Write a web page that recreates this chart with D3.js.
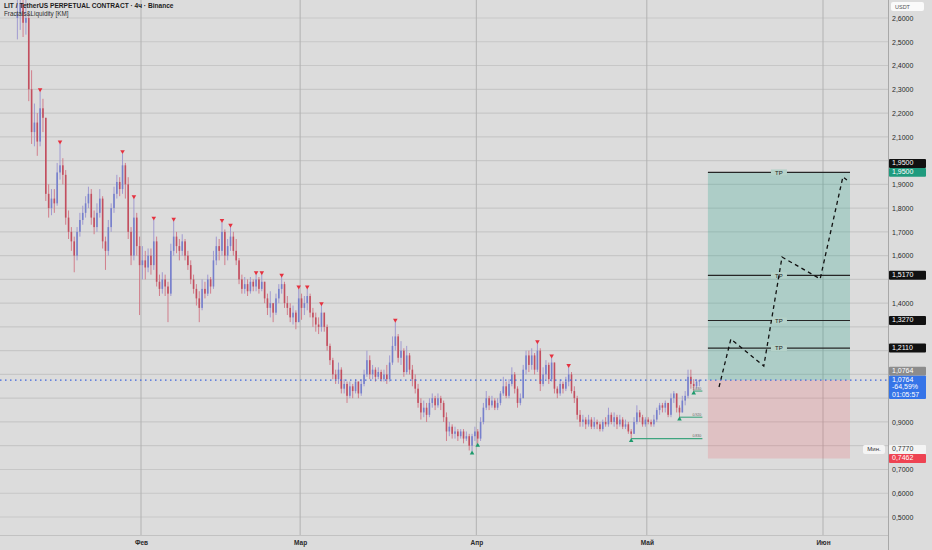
<!DOCTYPE html>
<html>
<head>
<meta charset="utf-8">
<script src="https://cdn.jsdelivr.net/npm/d3@7"></script>
<style>
  body { margin: 0; background: #dcdcdc; }
  svg { display: block; font-family: "Liberation Sans", Arial, sans-serif; }
</style>
</head>
<body>
<div id="chart"></div>
<script>
const startTime = '2026-01-10T00:00:00Z'
const firstOpen = 2.60
const closes = [
  2.62, 2.66, 2.58, 2.60, 2.30, 2.12, 2.16, 2.08, 2.22, 2.18,
  1.86, 1.80, 1.84, 1.82, 1.95, 1.98, 1.94, 1.76, 1.70, 1.66,
  1.60, 1.70, 1.75, 1.78, 1.82, 1.86, 1.76, 1.72, 1.78, 1.84,
  1.66, 1.62, 1.72, 1.80, 1.86, 1.91, 1.88, 1.98, 1.90, 1.70,
  1.60, 1.76, 1.64, 1.56, 1.58, 1.55, 1.60, 1.56, 1.66, 1.49,
  1.46, 1.50, 1.47, 1.44, 1.62, 1.68, 1.64, 1.62, 1.66, 1.60,
  1.56, 1.50, 1.46, 1.42, 1.38, 1.46, 1.44, 1.50, 1.47, 1.58,
  1.64, 1.62, 1.70, 1.60, 1.64, 1.68, 1.62, 1.58, 1.50, 1.46,
  1.48, 1.45, 1.49, 1.47, 1.50, 1.46, 1.49, 1.42, 1.38, 1.40,
  1.36, 1.42, 1.46, 1.48, 1.40, 1.38, 1.34, 1.36, 1.32, 1.42,
  1.38, 1.40, 1.43, 1.36, 1.34, 1.31, 1.30, 1.36, 1.30, 1.22,
  1.16, 1.10, 1.08, 1.12, 1.04, 1.06, 1.01, 1.05, 1.03, 1.07,
  1.02, 1.06, 1.10, 1.16, 1.10, 1.12, 1.09, 1.11, 1.08, 1.10,
  1.08, 1.15, 1.22, 1.26, 1.17, 1.20, 1.11, 1.18, 1.12, 1.08,
  1.04, 0.98, 0.94, 0.96, 0.93, 0.98, 1.00, 0.97, 1.00, 0.98,
  0.92, 0.86, 0.88, 0.85, 0.86, 0.84, 0.86, 0.83, 0.84, 0.80,
  0.84, 0.86, 0.83, 0.90, 0.96, 1.00, 0.97, 0.99, 0.96, 0.98,
  1.02, 1.05, 1.01, 1.06, 1.10, 1.04, 0.98, 1.00, 1.12, 1.18,
  1.14, 1.18, 1.12, 1.20, 1.06, 1.10, 1.14, 1.08, 1.15, 1.04,
  1.02, 1.06, 1.04, 1.07, 1.10, 1.03, 1.00, 0.93, 0.90, 0.91,
  0.89, 0.91, 0.88, 0.90, 0.89, 0.87, 0.90, 0.89, 0.93, 0.90,
  0.92, 0.89, 0.91, 0.88, 0.89, 0.86, 0.85, 0.90, 0.94, 0.92,
  0.89, 0.91, 0.90, 0.89, 0.91, 0.95, 0.97, 0.96, 0.98, 0.93,
  1.00, 1.02, 0.96, 0.94, 0.99, 1.01, 1.09, 1.06, 1.05, 1.07, 1.0764
]
const highs = [
  2.74, 2.78, 2.72, 2.70, 2.62, 2.38, 2.24, 2.20, 2.29, 2.26,
  2.17, 1.90, 1.88, 1.88, 1.99, 2.07, 2.01, 1.96, 1.79, 1.72,
  1.68, 1.72, 1.78, 1.81, 1.85, 1.89, 1.88, 1.79, 1.82, 1.88,
  1.85, 1.68, 1.75, 1.82, 1.89, 1.94, 1.93, 2.03, 1.99, 1.93,
  1.72, 1.84, 1.78, 1.68, 1.64, 1.62, 1.63, 1.63, 1.75, 1.68,
  1.52, 1.53, 1.52, 1.49, 1.65, 1.745, 1.70, 1.67, 1.69, 1.67,
  1.62, 1.58, 1.52, 1.48, 1.45, 1.50, 1.49, 1.52, 1.51, 1.62,
  1.68, 1.67, 1.74, 1.71, 1.67, 1.72, 1.70, 1.67, 1.59, 1.52,
  1.51, 1.50, 1.51, 1.50, 1.52, 1.51, 1.52, 1.47, 1.44, 1.45,
  1.40, 1.44, 1.48, 1.51, 1.49, 1.43, 1.40, 1.39, 1.37, 1.46,
  1.44, 1.43, 1.46, 1.44, 1.38, 1.36, 1.34, 1.39, 1.34, 1.31,
  1.23, 1.17, 1.12, 1.15, 1.13, 1.08, 1.07, 1.07, 1.06, 1.08,
  1.07, 1.08, 1.12, 1.20, 1.18, 1.14, 1.13, 1.13, 1.12, 1.12,
  1.14, 1.18, 1.26, 1.32, 1.27, 1.24, 1.21, 1.22, 1.19, 1.14,
  1.10, 1.06, 1.00, 0.99, 0.98, 1.00, 1.02, 1.01, 1.02, 1.01,
  0.99, 0.94, 0.90, 0.89, 0.88, 0.87, 0.87, 0.87, 0.86, 0.85,
  0.85, 0.88, 0.87, 0.92, 0.98, 1.03, 1.01, 1.01, 1.00, 1.00,
  1.03, 1.09, 1.07, 1.08, 1.13, 1.11, 1.05, 1.02, 1.14, 1.20,
  1.20, 1.21, 1.19, 1.23, 1.21, 1.13, 1.16, 1.15, 1.17, 1.15,
  1.05, 1.08, 1.07, 1.09, 1.13, 1.11, 1.05, 1.01, 0.95, 0.93,
  0.92, 0.93, 0.92, 0.92, 0.91, 0.90, 0.91, 0.92, 0.96, 0.94,
  0.94, 0.93, 0.93, 0.92, 0.91, 0.90, 0.87, 0.92, 0.97, 0.95,
  0.93, 0.92, 0.92, 0.91, 0.93, 0.96, 0.98, 0.98, 0.99, 0.98,
  1.02, 1.03, 1.02, 0.97, 1.01, 1.03, 1.12, 1.12, 1.08, 1.08, 1.08
]
const lows = [
  2.51, 2.55, 2.52, 2.53, 2.25, 2.07, 2.06, 2.02, 2.06, 2.12,
  1.83, 1.76, 1.77, 1.78, 1.81, 1.92, 1.90, 1.73, 1.67, 1.62,
  1.53, 1.58, 1.68, 1.73, 1.76, 1.80, 1.73, 1.69, 1.70, 1.76,
  1.63, 1.54, 1.60, 1.70, 1.78, 1.84, 1.85, 1.86, 1.84, 1.67,
  1.56, 1.58, 1.60, 1.35, 1.50, 1.50, 1.53, 1.52, 1.54, 1.47,
  1.43, 1.44, 1.43, 1.32, 1.43, 1.60, 1.61, 1.58, 1.60, 1.58,
  1.54, 1.48, 1.44, 1.39, 1.32, 1.37, 1.42, 1.43, 1.44, 1.46,
  1.56, 1.58, 1.60, 1.56, 1.58, 1.62, 1.60, 1.56, 1.48, 1.44,
  1.44, 1.43, 1.44, 1.45, 1.45, 1.44, 1.45, 1.40, 1.35, 1.34,
  1.32, 1.35, 1.40, 1.44, 1.38, 1.35, 1.32, 1.31, 1.29, 1.32,
  1.33, 1.35, 1.37, 1.34, 1.30, 1.28, 1.27, 1.28, 1.28, 1.20,
  1.14, 1.08, 1.06, 1.06, 1.02, 1.02, 0.98, 1.00, 1.00, 1.02,
  1.00, 1.01, 1.05, 1.09, 1.08, 1.08, 1.07, 1.08, 1.07, 1.07,
  1.06, 1.07, 1.14, 1.20, 1.15, 1.14, 1.09, 1.10, 1.10, 1.05,
  1.02, 0.96, 0.91, 0.92, 0.90, 0.92, 0.96, 0.95, 0.96, 0.95,
  0.90, 0.82, 0.84, 0.83, 0.83, 0.82, 0.83, 0.81, 0.82, 0.78,
  0.777, 0.82, 0.81, 0.82, 0.89, 0.95, 0.95, 0.96, 0.95, 0.95,
  0.97, 1.01, 1.00, 1.00, 1.05, 1.02, 0.96, 0.97, 1.00, 1.10,
  1.11, 1.12, 1.10, 1.11, 1.03, 1.05, 1.08, 1.06, 1.07, 1.02,
  1.00, 1.01, 1.02, 1.03, 1.05, 1.02, 0.98, 0.91, 0.88, 0.88,
  0.87, 0.88, 0.87, 0.87, 0.87, 0.86, 0.86, 0.88, 0.88, 0.89,
  0.88, 0.87, 0.88, 0.87, 0.87, 0.85, 0.83, 0.85, 0.89, 0.90,
  0.88, 0.88, 0.89, 0.88, 0.88, 0.90, 0.93, 0.94, 0.94, 0.92,
  0.92, 0.98, 0.94, 0.92, 0.94, 0.97, 1.00, 1.04, 1.03, 1.04, 1.05
]

const monthTicks = ['2026-02-01', '2026-03-01', '2026-04-01', '2026-05-01', '2026-06-01']
const monthNames = ['Фев', 'Мар', 'Апр', 'Май', 'Июн']
const priceTicks = [0.5, 0.6, 0.7, 0.8, 0.9, 1.0, 1.1, 1.2, 1.3, 1.4, 1.5,
  1.6, 1.7, 1.8, 1.9, 2.0, 2.1, 2.2, 2.3, 2.4, 2.5, 2.6]

const lastPrice = 1.0764
const changeText = '-64,59%'
const countdownText = '01:05:57'
const lowMark = 0.7770

// long position tool
const entryPrice = 1.0764
const stopPrice = 0.7462
const targetPrice = 1.95
const takeProfits = [1.95, 1.517, 1.327, 1.211]
const positionStart = '2026-05-11T18:00:00Z'
const positionEnd = '2026-06-05T18:00:00Z'

// hand drawn projection
const pathTimes = ['2026-05-13T17:00:00Z', '2026-05-15T19:00:00Z', '2026-05-21T14:00:00Z',
  '2026-05-24T19:00:00Z', '2026-05-31T12:00:00Z', '2026-06-04T12:00:00Z', '2026-06-05T05:00:00Z']
const pathPrices = [1.047, 1.249, 1.135, 1.594, 1.502, 1.931, 1.918]

const fmt = v => d3.format('.4f')(v).replace('.', ',')

const width = 932
const height = 550
const plotRight = 888
const plotBottom = 535

const svg = d3.select('#chart').append('svg')
  .attr('width', width)
  .attr('height', height)

svg.append('rect')
  .attr('width', width)
  .attr('height', height)
  .attr('fill', '#dcdcdc')

const x = d3.scaleUtc()
  .domain([new Date(monthTicks[0]), new Date(monthTicks[4])])
  .range([141, 823])

const y = d3.scaleLinear()
  .domain([0.5, 2.6])
  .range([517, 18])

svg.append('clipPath').attr('id', 'plot')
  .append('rect')
  .attr('width', plotRight)
  .attr('height', plotBottom)

const plot = svg.append('g').attr('clip-path', 'url(#plot)')

// grid
plot.append('g')
  .selectAll('line')
  .data(priceTicks)
  .join('line')
  .attr('x1', 0)
  .attr('x2', plotRight)
  .attr('y1', d => y(d))
  .attr('y2', d => y(d))
  .attr('stroke', '#c7c7c7')
  .attr('stroke-width', 1.2)

plot.append('g')
  .selectAll('line')
  .data(monthTicks)
  .join('line')
  .attr('x1', d => x(new Date(d)))
  .attr('x2', d => x(new Date(d)))
  .attr('y1', 0)
  .attr('y2', plotBottom)
  .attr('stroke', '#b2b2b2')
  .attr('stroke-width', 1)

// candles
const t0 = new Date(startTime)
const candles = closes.map((c, i) => {
  const open = i === 0 ? firstOpen : closes[i - 1]
  return {
    date: d3.utcHour.offset(t0, i * 12 + 6),
    open,
    close: c,
    high: Math.max(highs[i], open, c),
    low: Math.min(lows[i], open, c)
  }
})
const n = candles.length
const upColor = '#7680cc'
const downColor = '#c24f5f'
const isUp = d => d.close >= d.open

// position boxes go under the candles
const px0 = x(new Date(positionStart))
const px1 = x(new Date(positionEnd))

plot.append('rect')
  .attr('x', px0)
  .attr('y', y(targetPrice))
  .attr('width', px1 - px0)
  .attr('height', y(entryPrice) - y(targetPrice))
  .attr('fill', 'rgba(8,153,129,0.22)')

plot.append('rect')
  .attr('x', px0)
  .attr('y', y(entryPrice))
  .attr('width', px1 - px0)
  .attr('height', y(stopPrice) - y(entryPrice))
  .attr('fill', 'rgba(242,54,69,0.16)')

plot.append('g')
  .selectAll('line')
  .data(candles)
  .join('line')
  .attr('x1', d => x(d.date))
  .attr('x2', d => x(d.date))
  .attr('y1', d => y(d.high))
  .attr('y2', d => y(d.low))
  .attr('stroke', d => isUp(d) ? '#9a93cf' : '#cf7482')
  .attr('stroke-width', 0.9)

const bodyW = 1.6
plot.append('g')
  .selectAll('rect')
  .data(candles)
  .join('rect')
  .attr('x', d => x(d.date) - bodyW / 2)
  .attr('y', d => y(Math.max(d.open, d.close)))
  .attr('width', bodyW)
  .attr('height', d => Math.max(0.8, Math.abs(y(d.open) - y(d.close))))
  .attr('fill', d => isUp(d) ? upColor : downColor)

// fractals (one bar each side) that were never swept afterwards
const fractalHighs = []
const fractalLows = []
for (let i = 1; i < n - 1; i++) {
  const around = [i - 1, i + 1]
  const later = candles.slice(i + 1)
  if (around.every(j => candles[j].high < candles[i].high) && later.every(c => c.high <= candles[i].high)) {
    fractalHighs.push({ i, ...candles[i] })
  }
  if (around.every(j => candles[j].low > candles[i].low) && later.every(c => c.low >= candles[i].low)) {
    fractalLows.push({ i, ...candles[i] })
  }
}

const lastX = x(candles[n - 1].date) + 3

// liquidity levels in the May range
const liqLevels = fractalLows.filter(d => d.i >= 195).map(d => ({ ...d, price: d.low, kind: 'low' }))
  .concat(fractalHighs.filter(d => d.i >= 200 && d.i < n - 6).map(d => ({ ...d, price: d.high, kind: 'high' })))

plot.append('g')
  .selectAll('line')
  .data(liqLevels)
  .join('line')
  .attr('x1', d => x(d.date))
  .attr('x2', lastX)
  .attr('y1', d => y(d.price))
  .attr('y2', d => y(d.price))
  .attr('stroke', d => d.kind === 'low' ? '#3fa57f' : '#9a9a9a')
  .attr('stroke-width', d => d.kind === 'low' ? 1.1 : 0.7)

plot.append('g')
  .selectAll('text')
  .data(liqLevels)
  .join('text')
  .attr('x', lastX - 1)
  .attr('y', d => y(d.price) - 1.2)
  .attr('text-anchor', 'end')
  .attr('font-size', 3.6)
  .attr('fill', '#666')
  .text(d => d.price.toFixed(3))

const tri = d3.symbol(d3.symbolTriangle).size(9)
plot.append('g')
  .selectAll('path')
  .data(fractalHighs)
  .join('path')
  .attr('d', tri)
  .attr('transform', d => `translate(${x(d.date)}, ${y(d.high) - 2}) rotate(180)`)
  .attr('fill', '#e5313f')

plot.append('g')
  .selectAll('path')
  .data(fractalLows.filter(d => d.i >= 150))
  .join('path')
  .attr('d', tri)
  .attr('transform', d => `translate(${x(d.date)}, ${y(d.low) + 2})`)
  .attr('fill', '#1d9a6c')

// take profit lines with label gap
const tp = plot.append('g')
  .selectAll('g')
  .data(takeProfits)
  .join('g')

tp.append('line')
  .attr('x1', px0)
  .attr('x2', px1)
  .attr('y1', d => y(d))
  .attr('y2', d => y(d))
  .attr('stroke', '#262626')
  .attr('stroke-width', 1.2)

tp.append('rect')
  .attr('x', (px0 + px1) / 2 - 8)
  .attr('y', d => y(d) - 3)
  .attr('width', 16)
  .attr('height', 6)
  .attr('fill', '#b5d2c9')

tp.append('text')
  .attr('x', (px0 + px1) / 2)
  .attr('y', d => y(d) + 2.2)
  .attr('text-anchor', 'middle')
  .attr('font-size', 6)
  .attr('fill', '#222')
  .text('TP')

// projection path
const pathData = pathTimes.map((t, i) => [new Date(t), pathPrices[i]])
plot.append('path')
  .attr('d', d3.line().x(d => x(d[0])).y(d => y(d[1]))(pathData))
  .attr('fill', 'none')
  .attr('stroke', '#111')
  .attr('stroke-width', 1.3)
  .attr('stroke-dasharray', '4,3.5')

// last price dotted line
svg.append('line')
  .attr('x1', 0)
  .attr('x2', plotRight)
  .attr('y1', y(lastPrice))
  .attr('y2', y(lastPrice))
  .attr('stroke', '#3b63dd')
  .attr('stroke-width', 1.2)
  .attr('stroke-dasharray', '1.5,3.5')

// axes
svg.append('line')
  .attr('x1', plotRight + 0.5)
  .attr('x2', plotRight + 0.5)
  .attr('y1', 0)
  .attr('y2', height)
  .attr('stroke', '#a8a8a8')

svg.append('line')
  .attr('x1', 0)
  .attr('x2', plotRight)
  .attr('y1', plotBottom + 0.5)
  .attr('y2', plotBottom + 0.5)
  .attr('stroke', '#c2c2c2')

const xAxis = svg.append('g')
  .attr('transform', `translate(0, ${plotBottom})`)
  .call(d3.axisBottom(x).tickValues(monthTicks.map(d => new Date(d))).tickSize(0).tickPadding(5)
    .tickFormat((d, i) => monthNames[i]))
xAxis.select('.domain').remove()
xAxis.selectAll('text')
  .attr('font-size', 6.5)
  .attr('font-weight', 'bold')
  .attr('font-family', '"Liberation Sans", Arial, sans-serif')
  .attr('fill', '#2a2a2a')

// price scale labels, later ones get pushed up when they overlap
const axisLabels = [
  { price: lastPrice, lines: [fmt(lastPrice), changeText, countdownText], bg: '#3574e8', fg: '#fff' },
  { price: targetPrice, lines: [fmt(targetPrice)], bg: '#1f9b7e', fg: '#fff' },
  { price: stopPrice, lines: [fmt(stopPrice)], bg: '#ee4352', fg: '#fff' },
  ...takeProfits.map(p => ({ price: p, lines: [fmt(p)], bg: '#111', fg: '#fff' })),
  { price: entryPrice, lines: [fmt(entryPrice)], bg: '#8c8c8c', fg: '#fff' },
  { price: lowMark, lines: [fmt(lowMark)], bg: '#f4f4f4', fg: '#333', note: 'Мин.' }
]
const lineH = 7.3
const placed = []
axisLabels.forEach(l => {
  let top = y(l.price) - 4.5
  const h = l.lines.length * lineH + 1.6
  let moved = true
  while (moved) {
    moved = false
    placed.forEach(p => {
      if (top < p.top + p.h - 0.5 && top + h > p.top + 0.5) {
        top = p.top - h
        moved = true
      }
    })
  }
  l.top = top
  l.h = h
  placed.push(l)
})

// regular ticks are hidden where a label sits on them
const freeTicks = priceTicks.filter(p => placed.every(l => y(p) + 4 < l.top || y(p) - 4 > l.top + l.h))

const yAxis = svg.append('g')
  .attr('transform', `translate(${plotRight + 4}, 0)`)
  .call(d3.axisRight(y).tickValues(freeTicks).tickSize(0).tickPadding(0).tickFormat(fmt))
yAxis.select('.domain').remove()
yAxis.selectAll('text')
  .attr('font-size', 7)
  .attr('font-family', '"Liberation Sans", Arial, sans-serif')
  .attr('fill', '#2a2a2a')

const lab = svg.append('g')
  .selectAll('g')
  .data(axisLabels)
  .join('g')

lab.append('rect')
  .attr('x', plotRight + 1)
  .attr('y', d => d.top)
  .attr('width', 37)
  .attr('height', d => d.h)
  .attr('rx', 1)
  .attr('fill', d => d.bg)

lab.each(function (d) {
  d3.select(this).selectAll('text')
    .data(d.lines)
    .join('text')
    .attr('x', plotRight + 4)
    .attr('y', (t, i) => d.top + 6.4 + i * lineH)
    .attr('font-size', 7)
    .attr('fill', d.fg)
    .text(t => t)
})

const minLab = lab.filter(d => d.note)
minLab.append('rect')
  .attr('x', plotRight - 25)
  .attr('y', d => d.top)
  .attr('width', 22)
  .attr('height', d => d.h)
  .attr('rx', 2)
  .attr('fill', '#f4f4f4')
minLab.append('text')
  .attr('x', plotRight - 14)
  .attr('y', d => d.top + 6.2)
  .attr('text-anchor', 'middle')
  .attr('font-size', 6)
  .attr('fill', '#333')
  .text(d => d.note)

// currency tag
svg.append('rect')
  .attr('x', plotRight + 3)
  .attr('y', 2)
  .attr('width', 33)
  .attr('height', 9)
  .attr('rx', 2)
  .attr('fill', '#fafafa')
svg.append('text')
  .attr('x', plotRight + 7)
  .attr('y', 8.8)
  .attr('font-size', 5.5)
  .attr('fill', '#555')
  .text('USDT')

// header
svg.append('text')
  .attr('x', 4)
  .attr('y', 8)
  .attr('font-size', 6.6)
  .attr('font-weight', 'bold')
  .attr('fill', '#1c1c1c')
  .text('LIT / TetherUS PERPETUAL CONTRACT · 4ч · Binance')
svg.append('text')
  .attr('x', 4)
  .attr('y', 16)
  .attr('font-size', 6.3)
  .attr('fill', '#2c2c2c')
  .text('Fractals&Liquidity [KM]')
</script>
</body>
</html>
